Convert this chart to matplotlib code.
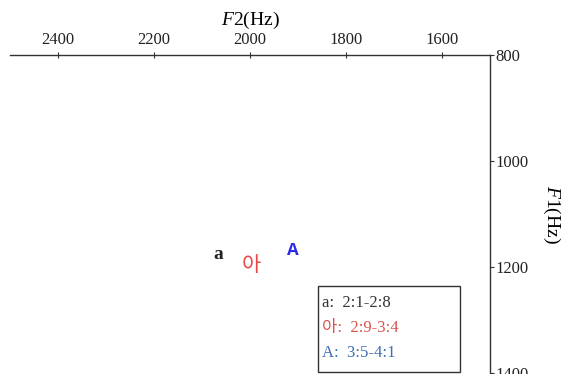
import matplotlib
matplotlib.use("Agg")
import matplotlib.pyplot as plt
from matplotlib.patches import Rectangle

plt.rcParams["mathtext.fontset"] = "custom"
plt.rcParams["mathtext.it"] = "Liberation Serif:italic"
plt.rcParams["mathtext.rm"] = "Liberation Serif"

labels = ["a", "아", "A"]
f2 = [2067, 1998, 1910]
f1 = [1177, 1196, 1168]
colors = ["#222222", "#e84545", "#2a2ae8"]
legend_texts = ["a:  2:1-2:8", "아:  2:9-3:4", "A:  3:5-4:1"]
legend_colors = ["#333333", "#d9534f", "#3d6db5"]
xticks = [2400, 2200, 2000, 1800, 1600]
yticks = [800, 1000, 1200, 1400]

fig = plt.figure(figsize=(5.68, 3.74), dpi=100)
ax = fig.add_axes([10/568, 1 - 373/374, 480/568, 318/374])
ax.set_xlim(2500, 1500)
ax.set_ylim(1400, 800)

for s in ["left", "bottom"]:
    ax.spines[s].set_visible(False)
for s in ["top", "right"]:
    ax.spines[s].set_color("#333333")
    ax.spines[s].set_linewidth(1.0)

ax.xaxis.tick_top()
ax.xaxis.set_label_position("top")
ax.yaxis.tick_right()
ax.yaxis.set_label_position("right")
ax.set_xticks(xticks)
ax.set_yticks(yticks)
ax.tick_params(axis="x", direction="inout", length=4, pad=3, labelsize=12, color="#333333")
ax.tick_params(axis="y", direction="out", length=3, pad=1, labelsize=12, color="#333333")
for lab in ax.get_xticklabels() + ax.get_yticklabels():
    lab.set_fontfamily("Liberation Serif")
    lab.set_color("#222222")

ax.set_xlabel(r"$\mathit{F2}$(Hz)", fontsize=14, family="Liberation Serif", labelpad=5)
ax.set_ylabel(r"$\mathit{F1}$(Hz)", fontsize=14, family="Liberation Serif", rotation=270, labelpad=24)

fams = [["Liberation Serif"], ["Noto Sans CJK KR"], ["Liberation Mono"]]
weights = ["bold", "normal", "bold"]
sizes = [14, 15, 14]
for lab, x, y, c, fm, w, sz in zip(labels, f2, f1, colors, fams, weights, sizes):
    ax.text(x, y, lab, color=c, family=fm, fontsize=sz, fontweight=w, ha="center", va="center")

# legend box
W, H = 568, 374
fig.patches.append(Rectangle((318/W, 1 - 372/H), 142/W, 86/H, transform=fig.transFigure,
                             fill=True, facecolor="white", edgecolor="#333333", linewidth=1.0))
for i, (t, c) in enumerate(zip(legend_texts, legend_colors)):
    fig.text(322/W, 1 - (303 + 25 * i)/H, t, color=c, fontsize=12,
             family=["Liberation Serif", "Noto Sans CJK KR"], ha="left", va="center")

fig.savefig("out.png", dpi=100)
